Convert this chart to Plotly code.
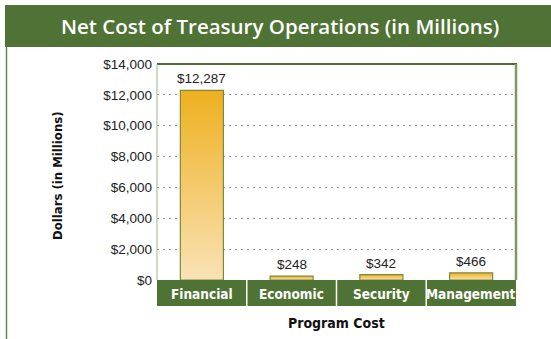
import plotly.graph_objects as go

# Program cost data (millions of dollars)
categories = ["Financial", "Economic", "Security", "Management"]
costs = [12287, 248, 342, 466]
y_tick_values = [0, 2000, 4000, 6000, 8000, 10000, 12000, 14000]
y_tick_labels = ["$0", "$2,000", "$4,000", "$6,000", "$8,000", "$10,000", "$12,000", "$14,000"]

GREEN = "#4f7334"
BAR_TOP = "#eeb01f"
BAR_BOTTOM = "#f9e2b6"
BAR_EDGE = "#7d8a3a"
COND = "Liberation Sans Narrow, DejaVu Sans Condensed, Arial Narrow, sans-serif"
BODY = "Liberation Sans, Arial, sans-serif"

W, H = 551, 339
L, R, T, B = 157, 35, 64, 59
PW, PH = W - L - R, H - T - B


def px_x(p):
    return (p - L) / PW


def px_y(p):
    return (H - B - p) / PH


fig = go.Figure()

half = 0.24
for i, (cat, val) in enumerate(zip(categories, costs)):
    xs = [i - half, i + half, i + half, i - half, i - half]
    ys = [0, 0, val, val, 0]
    fig.add_trace(go.Scatter(
        x=xs, y=ys, mode="lines", fill="toself",
        line=dict(color=BAR_EDGE, width=1.2),
        fillgradient=dict(type="vertical",
                          colorscale=[[0, BAR_BOTTOM], [1, BAR_TOP]]),
        hoverinfo="skip", showlegend=False, name=cat,
    ))

annotations = []
# value labels above bars
for i, val in enumerate(costs):
    annotations.append(dict(
        x=i, y=val, xref="x", yref="y", text=f"${val:,}",
        showarrow=False, xanchor="center", yanchor="bottom", yshift=2,
        font=dict(family=BODY, size=13.5, color="#222"),
    ))
# category labels in the band below the axis
for i, cat in enumerate(categories):
    annotations.append(dict(
        x=i, y=px_y(293.5), xref="x", yref="paper", text=f"<b>{cat}</b>",
        showarrow=False, xanchor="center", yanchor="middle",
        font=dict(family=COND, size=13.5, color="white"),
    ))
annotations += [
    dict(x=px_x(280), y=px_y(26), xref="paper", yref="paper",
         xanchor="center", yanchor="middle",
         text="Net Cost of Treasury Operations (in Millions)", showarrow=False,
         font=dict(family="Open Sans, DejaVu Sans, sans-serif", size=20.5,
                   weight=600, color="white")),
    dict(x=px_x(57), y=px_y(176), xref="paper", yref="paper",
         xanchor="center", yanchor="middle",
         text="<b>Dollars (in Millions)</b>", textangle=-90, showarrow=False,
         font=dict(family=COND, size=13, color="#111")),
    dict(x=px_x(336), y=px_y(323), xref="paper", yref="paper",
         xanchor="center", yanchor="middle",
         text="<b>Program Cost</b>", showarrow=False,
         font=dict(family=COND, size=14, color="#111")),
]

shapes = [
    # header band
    dict(type="rect", xref="paper", yref="paper", x0=px_x(5), x1=px_x(560),
         y0=px_y(47), y1=px_y(5), fillcolor=GREEN, line_width=0, layer="below"),
    # left frame line
    dict(type="line", xref="paper", yref="paper", x0=px_x(6.5), x1=px_x(6.5),
         y0=px_y(47), y1=px_y(345), line=dict(color="#5f8a45", width=1.5), layer="below"),
    # category band
    dict(type="rect", xref="x", yref="paper", x0=-0.5, x1=len(categories) - 0.5,
         y0=px_y(306), y1=0, fillcolor=GREEN, line_width=0, layer="below"),
    # plot frame
    dict(type="line", xref="paper", yref="paper", x0=0, x1=1.003, y0=1, y1=1,
         line=dict(color="#4a7030", width=1.8), layer="above"),
    dict(type="line", xref="paper", yref="paper", x0=1, x1=1, y0=0, y1=1,
         line=dict(color="#7a9a62", width=2.5), layer="above"),
    dict(type="line", xref="paper", yref="paper", x0=0, x1=0, y0=0, y1=1,
         line=dict(color="#9bb58a", width=1), layer="above"),
]
# white separators between categories
for k in range(1, len(categories)):
    shapes.append(dict(type="line", xref="x", yref="paper", x0=k - 0.5, x1=k - 0.5,
                       y0=px_y(306), y1=0, line=dict(color="white", width=1.5)))

fig.update_layout(
    width=W, height=H,
    margin=dict(l=L, r=R, t=T, b=B),
    paper_bgcolor="white", plot_bgcolor="white",
    shapes=shapes, annotations=annotations,
    xaxis=dict(range=[-0.5, len(categories) - 0.5], showticklabels=False,
               showgrid=False, zeroline=False, fixedrange=True),
    yaxis=dict(range=[0, 14000], tickvals=y_tick_values, ticktext=y_tick_labels,
               showgrid=True, gridcolor="#9a9a9a", griddash="2px,4px", gridwidth=1,
               zeroline=False, ticks="", ticklabelstandoff=4,
               tickfont=dict(family=BODY, size=13.5, color="#222")),
)

fig.write_html("out.html")
